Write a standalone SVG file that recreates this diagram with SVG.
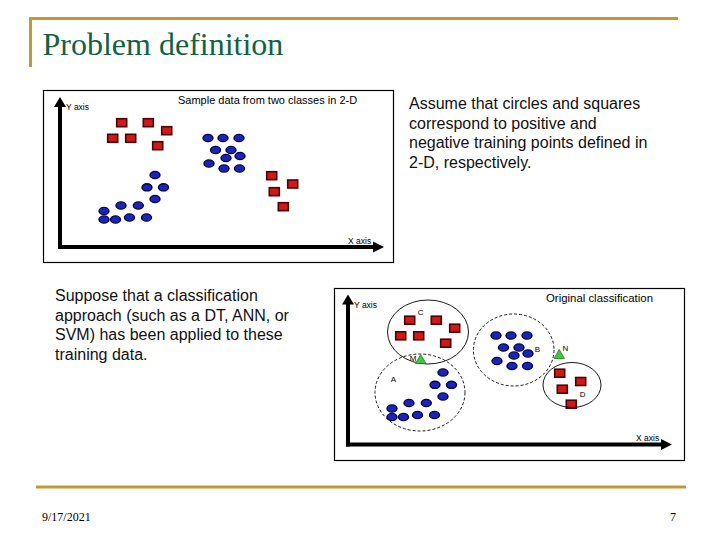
<svg xmlns="http://www.w3.org/2000/svg" width="720" height="540" viewBox="0 0 720 540">
<style>
.gold{stroke:#bf9a32;stroke-width:3;fill:none}
.title{font-family:"Liberation Serif","Times New Roman",serif;font-size:32px;fill:#12623f}
.foot{font-family:"Liberation Serif","Times New Roman",serif;font-size:12px;fill:#000}
.body{font-family:"Liberation Sans",Arial,sans-serif;font-size:16px;fill:#111}
.cap{font-family:"Liberation Sans",Arial,sans-serif;font-size:11px;fill:#000}
.ax{font-family:"Liberation Sans",Arial,sans-serif;font-size:8.5px;fill:#000}
.lbl{font-family:"Liberation Sans",Arial,sans-serif;font-size:8px;fill:#000;text-anchor:middle}
.box{fill:#fff;stroke:#000;stroke-width:1.2}
.axis{stroke:#000;stroke-width:4;fill:none}
.head{fill:#000}
.sq{fill:#d01818;stroke:#4a0505;stroke-width:1.6}
.ci{fill:#1c24b8;stroke:#00004a;stroke-width:1.4}
.tri{fill:#3fc83f;stroke:#1f7a1f;stroke-width:0.8}
.solid{fill:none;stroke:#000;stroke-width:0.9}
.dash{fill:none;stroke:#000;stroke-width:0.9;stroke-dasharray:3 2}
</style>
<defs>
<g id="pts">
<rect class="sq" x="116.7" y="118.7" width="10" height="8"/>
<rect class="sq" x="143.3" y="118.7" width="10" height="8"/>
<rect class="sq" x="161.7" y="126.7" width="10" height="8"/>
<rect class="sq" x="107.7" y="134.3" width="10" height="8"/>
<rect class="sq" x="125.7" y="134.3" width="10" height="8"/>
<rect class="sq" x="152.7" y="141.7" width="10" height="8"/>
<rect class="sq" x="266.7" y="171.7" width="10" height="8"/>
<rect class="sq" x="287.7" y="180" width="10" height="8"/>
<rect class="sq" x="269.3" y="187.7" width="10" height="8"/>
<rect class="sq" x="278.3" y="202.7" width="10" height="8"/>
<ellipse class="ci" cx="208" cy="138" rx="5" ry="3.6"/>
<ellipse class="ci" cx="223" cy="138" rx="5" ry="3.6"/>
<ellipse class="ci" cx="239" cy="138" rx="5" ry="3.6"/>
<ellipse class="ci" cx="215.5" cy="150" rx="5" ry="3.6"/>
<ellipse class="ci" cx="231" cy="150" rx="5" ry="3.6"/>
<ellipse class="ci" cx="226" cy="158" rx="5" ry="3.6"/>
<ellipse class="ci" cx="240" cy="156" rx="5" ry="3.6"/>
<ellipse class="ci" cx="209" cy="163.5" rx="5" ry="3.6"/>
<ellipse class="ci" cx="224" cy="168.5" rx="5" ry="3.6"/>
<ellipse class="ci" cx="239.5" cy="168.5" rx="5" ry="3.6"/>
<ellipse class="ci" cx="155" cy="175" rx="5" ry="3.6"/>
<ellipse class="ci" cx="147" cy="187.3" rx="5" ry="3.6"/>
<ellipse class="ci" cx="163.5" cy="187.3" rx="5" ry="3.6"/>
<ellipse class="ci" cx="155" cy="199" rx="5" ry="3.6"/>
<ellipse class="ci" cx="121" cy="205.5" rx="5" ry="3.6"/>
<ellipse class="ci" cx="138.3" cy="205.5" rx="5" ry="3.6"/>
<ellipse class="ci" cx="104" cy="211" rx="5" ry="3.6"/>
<ellipse class="ci" cx="104" cy="219.5" rx="5" ry="3.6"/>
<ellipse class="ci" cx="115.5" cy="219.5" rx="5" ry="3.6"/>
<ellipse class="ci" cx="129.5" cy="217.5" rx="5" ry="3.6"/>
<ellipse class="ci" cx="146.5" cy="217.5" rx="5" ry="3.6"/>
</g>
</defs>
<rect width="720" height="540" fill="#fff"/>
<!-- frame -->
<path class="gold" d="M30.5 67V18.5H678"/>
<line class="gold" x1="36" y1="487" x2="686" y2="487"/>
<text class="title" x="42.5" y="55">Problem definition</text>
<text class="foot" x="42" y="521">9/17/2021</text>
<text class="foot" x="670" y="521">7</text>
<!-- text blocks -->
<text class="body" x="409" y="109">Assume that circles and squares</text>
<text class="body" x="409" y="128.5">correspond to positive and</text>
<text class="body" x="409" y="148">negative training points defined in</text>
<text class="body" x="409" y="167.5">2-D, respectively.</text>
<text class="body" x="55" y="301">Suppose that a classification</text>
<text class="body" x="55" y="320.5">approach (such as a DT, ANN, or</text>
<text class="body" x="55" y="340">SVM) has been applied to these</text>
<text class="body" x="55" y="359.5">training data.</text>
<!-- plot 1 -->
<g id="plot1">
<rect class="box" x="43.5" y="90.5" width="350" height="172"/>
<line class="axis" x1="60" y1="249" x2="60" y2="104"/>
<line class="axis" x1="58" y1="247" x2="376" y2="247"/>
<polygon class="head" points="60,97 54,107 66,107"/>
<polygon class="head" points="384,247 373,241.5 373,252.5"/>
<text class="ax" x="66" y="110">Y axis</text>
<text class="ax" x="348" y="243.5">X axis</text>
<text class="cap" x="178" y="104">Sample data from two classes in 2-D</text>
<use href="#pts"/>
</g>
<!-- plot 2 -->
<g id="plot2">
<rect class="box" x="334.5" y="288.5" width="350" height="172"/>
<g transform="translate(288,197.5)">
<line class="axis" x1="60" y1="249" x2="60" y2="104"/>
<line class="axis" x1="58" y1="247" x2="376" y2="247"/>
<polygon class="head" points="60,97 54,107 66,107"/>
<polygon class="head" points="384,247 373,241.5 373,252.5"/>
<text class="ax" x="66" y="110">Y axis</text>
<text class="ax" x="348" y="243.5">X axis</text>
<use href="#pts"/>
</g>
<text class="cap" x="546" y="302" style="font-size:11.4px">Original classification</text>
<ellipse class="solid" cx="428" cy="332" rx="40.5" ry="32"/>
<ellipse class="dash" cx="420" cy="392.5" rx="45" ry="38.5"/>
<ellipse class="dash" cx="513.7" cy="350" rx="40.3" ry="36"/>
<ellipse class="solid" cx="572" cy="385" rx="29" ry="22.5"/>
<polygon class="tri" points="415.5,363.5 426,363.5 420.7,354.5"/>
<polygon class="tri" points="554,358.5 564.5,358.5 559.2,349.5"/>
<text class="lbl" x="420.7" y="314.5">C</text>
<text class="lbl" x="393.3" y="382">A</text>
<text class="lbl" x="537.5" y="352">B</text>
<text class="lbl" x="582.7" y="397">D</text>
<text class="lbl" x="413" y="360.5">M</text>
<text class="lbl" x="565.5" y="351">N</text>
</g>
</svg>
